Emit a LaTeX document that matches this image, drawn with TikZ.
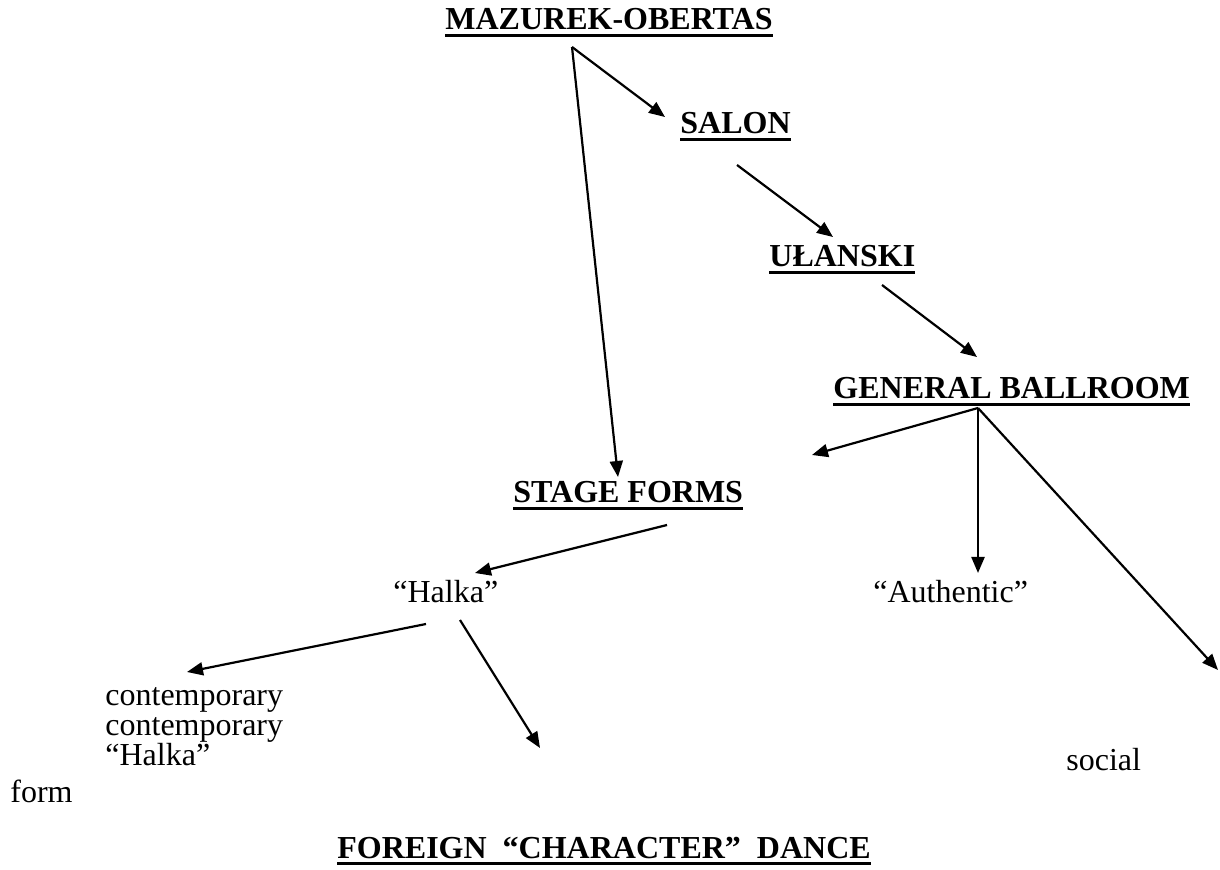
\documentclass[tikz,border=0pt]{standalone}
\usepackage{fontspec}
\setmainfont{Liberation Serif}
\usetikzlibrary{arrows.meta}
\newcommand{\ulhead}[1]{\setbox0=\hbox{\bfseries #1}\rlap{\copy0}\rule[-3.6pt]{\wd0}{1.6pt}}
\tikzset{
  titulo/.style={
    inner sep=0pt,
    anchor=base west,
    font=\fontsize{16}{15}\selectfont
  },
  texto/.style={
    inner sep=0pt,
    anchor=base west,
    align=left,
    font=\fontsize{16}{15}\selectfont
  },
  arrow/.style={
    -{Triangle[length=8pt,width=6.5pt]},
    line width=1.1pt,
    black
  }
}
\begin{document}
\begin{tikzpicture}[x=0.5pt,y=-0.5pt]
\useasboundingbox (0,0) rectangle (1220,870);
\node[titulo] (mazurek) at (445,30) {\ulhead{MAZUREK-OBERTAS}};
\node[titulo] (salon) at (680,134) {\ulhead{SALON}};
\node[titulo] (ulanski) at (769,267) {\ulhead{UŁANSKI}};
\node[titulo] (ballroom) at (833,399) {\ulhead{GENERAL BALLROOM}};
\node[titulo] (stage) at (513,503) {\ulhead{STAGE FORMS}};
\node[texto] (halka) at (393,603) {``Halka''};
\node[texto] (authentic) at (873,603) {``Authentic''};
\node[texto] (contemp) at (105,765) {contemporary\\contemporary\\``Halka''};
\node[texto] (social) at (1066,770) {social};
\node[texto] (form) at (10,802) {form};
\node[titulo] (foreign) at (337,858) {\ulhead{FOREIGN\ \ ``CHARACTER''\ \ DANCE}};
\coordinate (libre1) at (812,455);
\coordinate (libre2) at (1218,670);
\coordinate (libre3) at (540,748);
\draw[arrow] ([shift={(127,17)}]mazurek.base west) -- ([shift={(-15,-17)}]salon.base west);
\draw[arrow] ([shift={(127,17)}]mazurek.base west) -- ([shift={(105,-26)}]stage.base west);
\draw[arrow] ([shift={(57,31)}]salon.base west) -- ([shift={(64,-30)}]ulanski.base west);
\draw[arrow] ([shift={(113,18)}]ulanski.base west) -- ([shift={(144,-42)}]ballroom.base west);
\draw[arrow] ([shift={(145,9)}]ballroom.base west) -- (libre1);
\draw[arrow] ([shift={(145,9)}]ballroom.base west) -- ([shift={(105,-30)}]authentic.base west);
\draw[arrow] ([shift={(145,9)}]ballroom.base west) -- (libre2);
\draw[arrow] ([shift={(154,22)}]stage.base west) -- ([shift={(82,-30)}]halka.base west);
\draw[arrow] ([shift={(33,21)}]halka.base west) -- ([shift={(82,-93)}]contemp.base west);
\draw[arrow] ([shift={(67,17)}]halka.base west) -- (libre3);
\end{tikzpicture}
\end{document}
